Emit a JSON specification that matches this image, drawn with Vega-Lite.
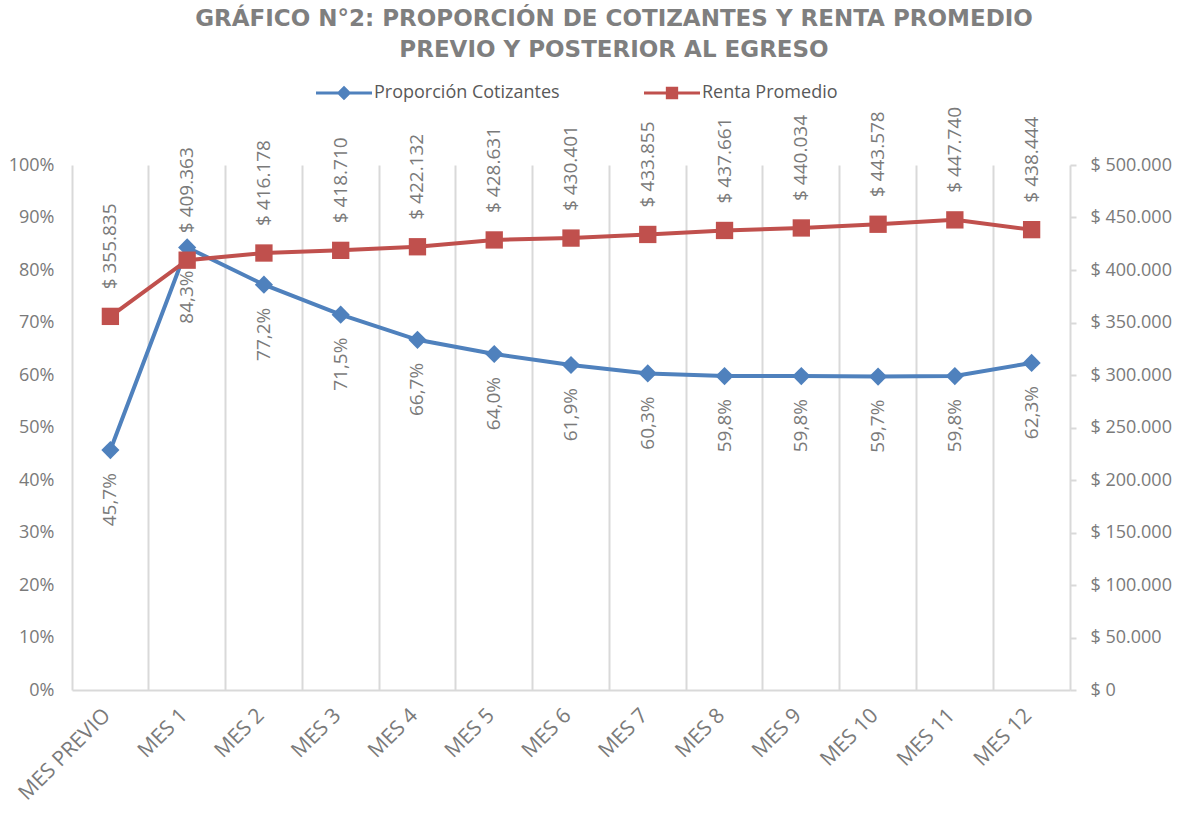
{
  "$schema": "https://vega.github.io/schema/vega-lite/v6.json",
  "width": 998,
  "height": 525,
  "autosize": {"type": "none"},
  "padding": {"left": 72, "top": 165, "right": 113, "bottom": 135},
  "config": {
    "locale": {"number": {"decimal": ",", "thousands": ".", "grouping": [3], "currency": ["$ ", ""]}},
    "view": {"stroke": null},
    "font": "Open Sans"
  },
  "title": {
    "text": ["GRÁFICO N°2: PROPORCIÓN DE COTIZANTES Y RENTA PROMEDIO", "PREVIO Y POSTERIOR AL EGRESO"],
    "font": "DejaVu Sans",
    "fontSize": 23,
    "fontWeight": "bold",
    "color": "#7f7f7f",
    "anchor": "middle",
    "frame": "group",
    "dx": 43,
    "offset": 3,
    "lineHeight": 31
  },
  "data": {
    "values": [
      {"mes": "MES PREVIO", "prop": 0.457, "renta": 355835},
      {"mes": "MES 1", "prop": 0.843, "renta": 409363},
      {"mes": "MES 2", "prop": 0.772, "renta": 416178},
      {"mes": "MES 3", "prop": 0.715, "renta": 418710},
      {"mes": "MES 4", "prop": 0.667, "renta": 422132},
      {"mes": "MES 5", "prop": 0.640, "renta": 428631},
      {"mes": "MES 6", "prop": 0.619, "renta": 430401},
      {"mes": "MES 7", "prop": 0.603, "renta": 433855},
      {"mes": "MES 8", "prop": 0.598, "renta": 437661},
      {"mes": "MES 9", "prop": 0.598, "renta": 440034},
      {"mes": "MES 10", "prop": 0.597, "renta": 443578},
      {"mes": "MES 11", "prop": 0.598, "renta": 447740},
      {"mes": "MES 12", "prop": 0.623, "renta": 438444}
    ]
  },
  "encoding": {
    "x": {
      "field": "mes", "type": "nominal", "sort": null,
      "scale": {"type": "band", "paddingInner": 0, "paddingOuter": 0},
      "axis": {"title": null, "orient": "bottom", "bandPosition": 0, "labelOffset": -3, "labelAngle": -45, "labelAlign": "right", "labelBaseline": "middle", "labelFontSize": 21, "labelColor": "#7a7a7a", "labelPadding": 22, "ticks": false, "domain": true, "domainColor": "#d9d9d9", "domainWidth": 2, "grid": true, "gridColor": "#d9d9d9", "gridWidth": 2}
    }
  },
  "layer": [
    {
      "layer": [
        {
          "mark": {"type": "line", "strokeWidth": 4, "point": {"shape": "diamond", "size": 330, "filled": true, "opacity": 1}},
          "encoding": {
            "y": {
              "field": "prop", "type": "quantitative",
              "scale": {"domain": [0, 1]},
              "axis": {"orient": "left", "title": null, "format": ".0%", "values": [0, 0.1, 0.2, 0.3, 0.4, 0.5, 0.6, 0.7, 0.8, 0.9, 1], "domain": false, "ticks": false, "grid": false, "labelColor": "#7a7a7a", "labelFontSize": 18, "labelPadding": 18}
            },
            "color": {
              "datum": "Proporción Cotizantes",
              "scale": {"domain": ["Proporción Cotizantes", "Renta Promedio"], "range": ["#4F81BD", "#C0504D"]},
              "legend": {
                "title": null, "orient": "none", "legendX": 244, "legendY": -100, "direction": "horizontal",
                "symbolSize": 3136, "labelFontSize": 18, "labelColor": "#595959", "labelLimit": 400, "columnPadding": 84, "labelOffset": 2, "padding": 0,
                "symbolStrokeWidth": 0,
                "encode": {"symbols": {"update": {
                  "shape": {"signal": "datum.value === 'Renta Promedio' ? 'M-1,-0.055H1V0.055H-1Z M-0.22,-0.22H0.22V0.22H-0.22Z' : 'M-1,-0.055H1V0.055H-1Z M0,-0.26L0.26,0L0,0.26L-0.26,0Z'"},
                  "fill": {"signal": "datum.value === 'Renta Promedio' ? '#C0504D' : '#4F81BD'"},
                  "opacity": {"value": 1},
                  "strokeWidth": {"value": 0}
                }}}
              }
            }
          }
        },
        {
          "mark": {"type": "text", "angle": 270, "align": "right", "baseline": "middle", "dx": -23, "fontSize": 19, "color": "#7a7a7a"},
          "encoding": {
            "y": {"field": "prop", "type": "quantitative"},
            "text": {"field": "prop", "type": "quantitative", "format": ".1%"}
          }
        }
      ]
    },
    {
      "layer": [
        {
          "mark": {"type": "line", "strokeWidth": 4, "point": {"shape": "square", "size": 300, "filled": true, "opacity": 1}},
          "encoding": {
            "y": {
              "field": "renta", "type": "quantitative",
              "scale": {"domain": [0, 500000]},
              "axis": {"orient": "right", "title": null, "format": "$,.0f", "values": [0, 50000, 100000, 150000, 200000, 250000, 300000, 350000, 400000, 450000, 500000], "domainColor": "#d9d9d9", "domainWidth": 2, "tickColor": "#d9d9d9", "tickSize": 6, "tickWidth": 2, "labelPadding": 14, "grid": false, "labelColor": "#7a7a7a", "labelFontSize": 18}
            },
            "color": {"datum": "Renta Promedio"}
          }
        },
        {
          "mark": {"type": "text", "angle": 270, "align": "left", "baseline": "middle", "dx": 27, "fontSize": 19, "color": "#7a7a7a"},
          "encoding": {
            "y": {"field": "renta", "type": "quantitative"},
            "text": {"field": "renta", "type": "quantitative", "format": "$,.0f"}
          }
        }
      ]
    }
  ],
  "resolve": {"scale": {"y": "independent"}, "axis": {"y": "independent"}}
}
